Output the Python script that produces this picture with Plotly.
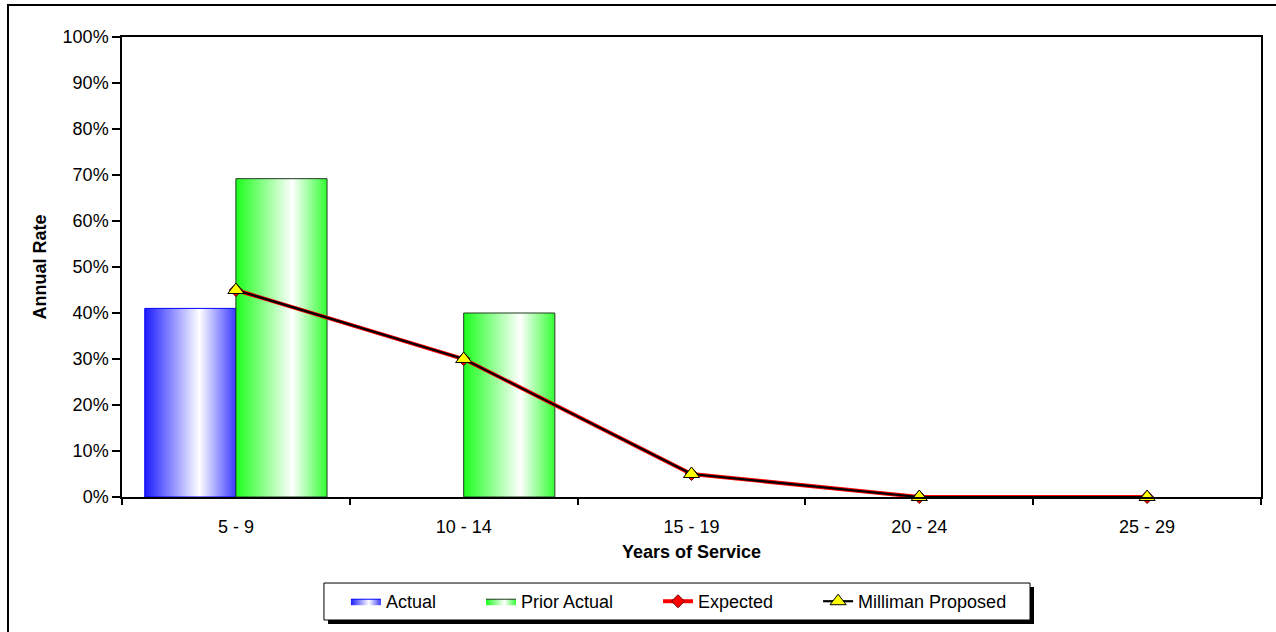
import plotly.graph_objects as go

# Termination-rate data by service band
categories = ["5 - 9", "10 - 14", "15 - 19", "20 - 24", "25 - 29"]
actual = [0.41, None, None, None, None]
prior_actual = [0.692, 0.40, None, None, None]
expected = [0.45, 0.30, 0.05, 0.0, 0.0]
milliman_proposed = [0.45, 0.30, 0.05, 0.0, 0.0]
y_ticks = [i / 10 for i in range(11)]

FONT = "Liberation Sans, Arial, sans-serif"
FS = 18
BAR_W = 0.4  # each bar's width in category units
PAD = "\u00a0" * 8  # spacing between legend entries

blue_grad = [[0, "#1c1cff"], [0.6, "#ffffff"], [1, "#3a3aff"]]
green_grad = [[0, "#1cff1c"], [0.62, "#ffffff"], [1, "#33ff33"]]

fig = go.Figure()


def add_bars(values, offset, name, colorscale, edge):
    first = True
    for i, v in enumerate(values):
        if v is None:
            continue
        x0, x1 = i + offset, i + offset + BAR_W
        fig.add_trace(go.Scatter(
            x=[x0, x1, x1, x0, x0], y=[0, 0, v, v, 0],
            mode="lines", fill="toself",
            fillgradient=dict(type="horizontal", colorscale=colorscale),
            line=dict(color=edge, width=1),
            name=name + PAD, legendgroup=name, showlegend=first,
            hoverinfo="skip", xaxis="x", yaxis="y",
        ))
        first = False


add_bars(actual, -BAR_W, "Actual", blue_grad, "#0000ff")
add_bars(prior_actual, 0.0, "Prior Actual", green_grad, "#1f3a1f")

xs = list(range(len(categories)))
fig.add_trace(go.Scatter(
    x=xs, y=expected, name="Expected" + PAD, mode="lines+markers",
    line=dict(color="#ff0000", width=4),
    marker=dict(symbol="diamond", size=10, color="#ff0000",
                line=dict(color="#600000", width=1)),
    cliponaxis=False, xaxis="x2", yaxis="y",
))
fig.add_trace(go.Scatter(
    x=xs, y=milliman_proposed, name="Milliman Proposed", mode="lines+markers",
    line=dict(color="#000000", width=2.2),
    marker=dict(symbol="triangle-up", size=14, color="#ffff00",
                line=dict(color="#000000", width=1)),
    cliponaxis=False, xaxis="x2", yaxis="y",
))

# outer chart frame
fig.add_shape(type="rect", xref="paper", yref="paper",
              x0=-0.1001, x1=1.05, y0=-0.35, y1=1.0696,
              line=dict(color="#000000", width=2), layer="below")
# legend box with drop shadow
fig.add_shape(type="rect", xref="paper", yref="paper",
              x0=0.1809, x1=0.8007, y0=-0.2761, y1=-0.1957,
              fillcolor="#000000", line=dict(width=0), layer="below")
fig.add_shape(type="rect", xref="paper", yref="paper",
              x0=0.1773, x1=0.7972, y0=-0.2674, y1=-0.1870,
              fillcolor="#ffffff", line=dict(color="#000000", width=1),
              layer="below")

fig.update_layout(
    width=1276, height=632,
    margin=dict(l=122, r=15, t=37, b=135),
    paper_bgcolor="white", plot_bgcolor="white",
    font=dict(family=FONT, size=FS, color="#000000"),
    showlegend=True,
    legend=dict(
        orientation="h", x=0.1966, xanchor="left", y=-0.187, yanchor="top",
        borderwidth=0, bgcolor="rgba(0,0,0,0)",
        font=dict(family=FONT, size=FS),
        traceorder="normal",
    ),
    xaxis=dict(
        range=[-0.5, len(categories) - 0.5],
        tickvals=[i - 0.5 for i in range(len(categories) + 1)],
        showticklabels=False, ticks="outside", ticklen=6,
        tickcolor="#000000", tickwidth=1.5,
        showline=True, linecolor="#000000", linewidth=1.5, mirror=True,
        showgrid=False, zeroline=False, fixedrange=True,
    ),
    xaxis2=dict(
        overlaying="x", anchor="y", side="bottom",
        range=[-0.5, len(categories) - 0.5],
        tickvals=xs, ticktext=categories,
        ticks="", showline=False, showgrid=False, zeroline=False,
        ticklabelstandoff=17,
        title=dict(text="<b>Years of Service</b>", standoff=9,
                   font=dict(family=FONT, size=FS)),
    ),
    yaxis=dict(
        range=[0, 1], tickvals=y_ticks, tickformat=".0%",
        ticks="outside", ticklen=8, tickcolor="#000000", tickwidth=1.5,
        showline=True, linecolor="#000000", linewidth=1.5, mirror=True,
        showgrid=False, zeroline=False,
        title=dict(text="<b>Annual Rate</b>", standoff=11,
                   font=dict(family=FONT, size=FS)),
    ),
)

fig.write_html("out.html")
